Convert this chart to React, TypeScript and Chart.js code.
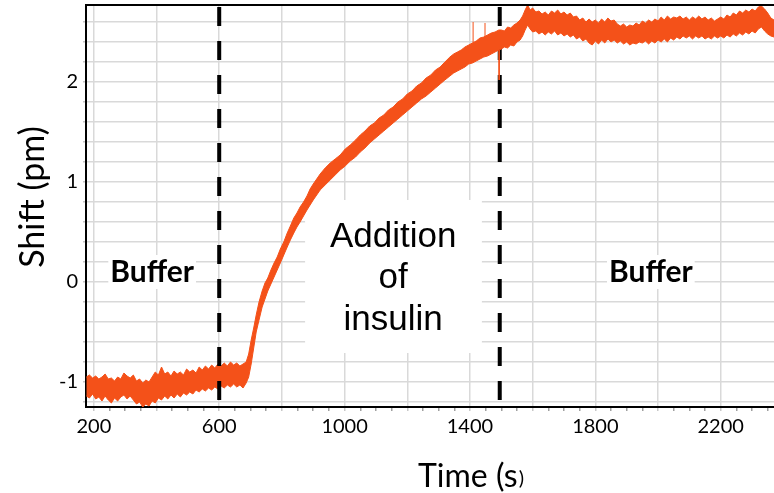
import { useEffect, useRef } from 'react';
import { Chart, registerables } from 'chart.js';

Chart.register(...registerables);

// ---- data (time in s, shift in pm): lower / upper edge of the noisy trace ----
const TIME = [
  176, 186, 196, 206, 216, 226, 236, 246, 256, 266, 276, 286, 296, 306, 316, 326, 336, 346, 356, 366,
  376, 386, 396, 406, 416, 426, 436, 446, 456, 466, 476, 486, 496, 506, 516, 526, 536, 546, 556, 566,
  576, 586, 596, 606, 616, 626, 636, 646, 656, 666, 676, 686,
  694, 702, 710, 718, 727, 737, 746, 755, 765, 775, 785, 795, 806, 817, 827, 838, 848, 858, 869, 880,
  890, 900, 911, 922, 938, 954, 970, 986, 1002, 1018, 1035, 1050, 1065, 1080, 1095, 1110, 1125, 1140,
  1155, 1170, 1185, 1200, 1215, 1230, 1245, 1260, 1275, 1290, 1305, 1320, 1336, 1348, 1360, 1372, 1384, 1396,
  1408, 1420, 1432, 1444, 1456, 1468, 1480, 1492,
  1500, 1510, 1520, 1530, 1540, 1550, 1560, 1568, 1576, 1584, 1592, 1600, 1610, 1620, 1630, 1640, 1650, 1660,
  1670, 1680, 1690, 1700, 1710, 1720, 1730, 1740, 1750, 1760, 1770, 1780, 1790, 1800, 1810, 1820, 1830, 1840,
  1850, 1860, 1870, 1880, 1890, 1900, 1910, 1920, 1930, 1940, 1950, 1960, 1970, 1980, 1990, 2000, 2010, 2020,
  2030, 2040, 2050, 2060, 2070, 2080, 2090, 2100, 2110, 2120, 2130, 2140, 2150, 2160, 2170, 2180, 2190, 2200,
  2210, 2220, 2230, 2240, 2250, 2260, 2270, 2280, 2290, 2300, 2310, 2320, 2330, 2340, 2350, 2360, 2370,
];
const LOWER = [
  -1.14, -1.16, -1.12, -1.17, -1.15, -1.19, -1.14, -1.18, -1.21, -1.16, -1.19, -1.15, -1.13, -1.17, -1.14, -1.18, -1.22, -1.2, -1.25, -1.22,
  -1.24, -1.19, -1.21, -1.16, -1.18, -1.14, -1.17, -1.13, -1.16, -1.12, -1.15, -1.11, -1.13, -1.1, -1.12, -1.08, -1.1, -1.07, -1.09, -1.06,
  -1.08, -1.05, -1.07, -1.04, -1.06, -1.03, -1.05, -1.02, -1.05, -1.03, -1.06, -1.01,
  -0.95, -0.82, -0.66, -0.5, -0.38, -0.25, -0.17, -0.09, -0.02, 0.05, 0.12, 0.19, 0.27, 0.35, 0.42, 0.49, 0.55, 0.6, 0.66, 0.72,
  0.77, 0.82, 0.87, 0.92, 0.97, 1.02, 1.07, 1.12, 1.16, 1.21, 1.25, 1.3, 1.34, 1.39, 1.43, 1.47, 1.51, 1.55,
  1.59, 1.63, 1.67, 1.71, 1.75, 1.79, 1.83, 1.86, 1.9, 1.94, 1.98, 2.02, 2.06, 2.09, 2.11, 2.13, 2.15, 2.18,
  2.19, 2.21, 2.23, 2.25, 2.26, 2.28, 2.3, 2.32,
  2.33, 2.35, 2.34, 2.37, 2.36, 2.4, 2.42, 2.46, 2.52, 2.57, 2.53, 2.5, 2.51, 2.48, 2.5, 2.47, 2.5, 2.48,
  2.51, 2.47, 2.49, 2.46, 2.48, 2.45, 2.47, 2.43, 2.45, 2.41, 2.43, 2.39, 2.37, 2.41, 2.38, 2.42, 2.39, 2.43,
  2.4, 2.42, 2.39, 2.41, 2.38, 2.4, 2.37, 2.39, 2.38, 2.4, 2.39, 2.41, 2.38, 2.41, 2.39, 2.42, 2.4, 2.43,
  2.4, 2.44, 2.42, 2.45, 2.43, 2.46, 2.44, 2.46, 2.43, 2.46, 2.44, 2.46, 2.43, 2.45, 2.43, 2.46, 2.44, 2.46,
  2.44, 2.47, 2.45, 2.48, 2.46, 2.49, 2.47, 2.5, 2.48, 2.51, 2.49, 2.53, 2.55, 2.51, 2.48, 2.46, 2.45,
];
const UPPER = [
  -0.95, -0.93, -0.96, -0.94, -0.97, -0.95, -0.92, -0.97, -0.96, -0.99, -0.95, -0.97, -0.91, -0.94, -0.96, -0.93, -0.99, -0.97, -1.01, -0.98,
  -1.0, -0.95, -0.9, -0.93, -0.85, -0.92, -0.9, -0.94, -0.89, -0.92, -0.9, -0.93, -0.87, -0.9, -0.88, -0.91, -0.85, -0.88, -0.84, -0.87,
  -0.83, -0.86, -0.82, -0.84, -0.81, -0.84, -0.8, -0.83, -0.81, -0.84, -0.82, -0.8,
  -0.72, -0.58, -0.46, -0.33, -0.2, -0.09, -0.01, 0.04, 0.12, 0.19, 0.25, 0.33, 0.4, 0.49, 0.56, 0.64, 0.69, 0.75, 0.8, 0.86,
  0.93, 0.98, 1.03, 1.08, 1.14, 1.19, 1.23, 1.27, 1.33, 1.37, 1.42, 1.47, 1.51, 1.56, 1.59, 1.64, 1.67, 1.72,
  1.75, 1.8, 1.83, 1.88, 1.91, 1.96, 1.99, 2.04, 2.07, 2.12, 2.15, 2.2, 2.25, 2.28, 2.3, 2.32, 2.35, 2.37,
  2.39, 2.41, 2.44, 2.45, 2.47, 2.49, 2.5, 2.52,
  2.52, 2.51, 2.55, 2.54, 2.57, 2.59, 2.62, 2.66, 2.72, 2.77, 2.72, 2.74, 2.7, 2.71, 2.68, 2.7, 2.67, 2.71,
  2.69, 2.72, 2.68, 2.7, 2.67, 2.69, 2.65, 2.66, 2.62, 2.64, 2.6, 2.63, 2.6, 2.62, 2.59, 2.63, 2.6, 2.64,
  2.61, 2.62, 2.58, 2.56, 2.58, 2.55, 2.57, 2.56, 2.59, 2.57, 2.61, 2.59, 2.62, 2.6, 2.63, 2.61, 2.65, 2.62,
  2.66, 2.63, 2.65, 2.64, 2.66, 2.63, 2.65, 2.62, 2.65, 2.63, 2.66, 2.63, 2.65, 2.62, 2.64, 2.61, 2.63, 2.65,
  2.63, 2.67, 2.65, 2.69, 2.67, 2.71, 2.69, 2.72, 2.7, 2.73, 2.71, 2.75, 2.76, 2.73, 2.69, 2.64, 2.62,
];
// thin spikes on the trace: [time, from, to]
const SPIKE_TIME = [1410, 1448, 1493];
const SPIKE_FROM = [2.38, 2.42, 2.32];
const SPIKE_TO = [2.6, 2.59, 2.02];

// phase boundaries (s) and labels
const PHASE_LINES = [600, 1495];
const PHASE_LABELS = ['Buffer', 'Addition of insulin', 'Buffer'];

// axes
const X_MIN = 175;
const X_MAX = 2370;
const X_LABELS = [200, 600, 1000, 1400, 1800, 2200];
const Y_MIN = -1.25;
const Y_MAX = 2.77;
const Y_GRID = [-1.2, -1.0, -0.8, -0.6, -0.4, -0.2, 0, 0.2, 0.4, 0.6, 0.8, 1.0, 1.2, 1.4, 1.6, 1.8, 2.0, 2.2, 2.4, 2.6];
const Y_LABELS = [-1, 0, 1, 2];

const ORANGE = '#F45119';
const GRID = '#d9d9d9';

const dashed = (chart: any, value: number) => {
  const { ctx, chartArea, scales } = chart;
  ctx.save();
  ctx.strokeStyle = '#000';
  ctx.lineWidth = 4;
  ctx.setLineDash([19, 15]);
  const px = scales.x.getPixelForValue(value);
  ctx.beginPath();
  ctx.moveTo(px, chartArea.top + 2);
  ctx.lineTo(px, chartArea.bottom);
  ctx.stroke();
  ctx.restore();
};

const overlay = {
  id: 'overlay',
  beforeDatasetsDraw(chart: any) {
    const { ctx, scales } = chart;
    const x = scales.x;
    const y = scales.y;
    ctx.save();
    ctx.fillStyle = '#ffffff';
    ctx.font = 'bold 30px Lato';
    const lbx = x.getPixelForValue(386);
    const rbx = x.getPixelForValue(1977);
    const by = y.getPixelForValue(0.1);
    const bw = ctx.measureText(PHASE_LABELS[0]).width;
    ctx.fillRect(lbx - bw / 2 - 2, by - 17, bw + 4, 34);
    ctx.fillRect(rbx - bw / 2 - 2, by - 17, bw + 4, 34);
    const ax0 = x.getPixelForValue(874);
    const ax1 = x.getPixelForValue(1438);
    const ay0 = y.getPixelForValue(0.82);
    const ay1 = y.getPixelForValue(-0.71);
    ctx.fillRect(ax0, ay0, ax1 - ax0, ay1 - ay0);

    ctx.fillStyle = '#000';
    ctx.textAlign = 'center';
    ctx.textBaseline = 'middle';
    ctx.fillText(PHASE_LABELS[0], lbx, by);
    ctx.fillText(PHASE_LABELS[2], rbx, by);
    ctx.font = '35px "Liberation Sans"';
    const words = ['Addition', 'of', 'insulin'];
    const ys = [0.45, 0.04, -0.38];
    const acx = x.getPixelForValue(1155);
    words.forEach((w, i) => ctx.fillText(w, acx, y.getPixelForValue(ys[i])));
    ctx.restore();
    dashed(chart, PHASE_LINES[1]);
  },
  afterDatasetsDraw(chart: any) {
    dashed(chart, PHASE_LINES[0]);
    const { ctx, chartArea } = chart;
    ctx.save();
    ctx.strokeStyle = '#000';
    ctx.lineWidth = 2;
    ctx.beginPath();
    ctx.moveTo(chartArea.left, chartArea.top);
    ctx.lineTo(chartArea.right, chartArea.top);
    ctx.stroke();
    ctx.restore();
  },
  afterDraw(chart: any) {
    const { ctx } = chart;
    ctx.save();
    ctx.fillStyle = '#000';
    ctx.translate(33, 197);
    ctx.rotate(-Math.PI / 2);
    ctx.font = '34px Lato';
    ctx.textAlign = 'center';
    ctx.textBaseline = 'middle';
    ctx.fillText('Shift (pm)', 0, 0);
    ctx.restore();
    ctx.save();
    ctx.fillStyle = '#000';
    ctx.font = '32px Lato';
    ctx.textAlign = 'left';
    ctx.textBaseline = 'alphabetic';
    const main = 'Time (s';
    ctx.fillText(main, 418, 487);
    const w = ctx.measureText(main).width;
    ctx.font = '20px Lato';
    ctx.fillText(')', 418 + w + 1, 485);
    ctx.restore();
  },
};

export default function App() {
  const ref = useRef<HTMLCanvasElement | null>(null);
  useEffect(() => {
    document.body.style.margin = '0';
    const canvas = ref.current;
    if (!canvas) return;
    const upper = TIME.map((t, i) => ({ x: t, y: UPPER[i] }));
    const lower = TIME.map((t, i) => ({ x: t, y: LOWER[i] }));
    const spikes: any[] = [];
    SPIKE_TIME.forEach((t, i) => {
      spikes.push({ x: t, y: SPIKE_FROM[i] }, { x: t, y: SPIKE_TO[i] }, { x: t, y: null });
    });
    const xGrid: number[] = [];
    for (let v = 200; v <= 2350; v += 50) xGrid.push(v);
    const noPad = (s: any) => {
      s.paddingTop = 0;
      s.paddingBottom = 0;
      s.paddingLeft = 0;
      s.paddingRight = 0;
    };
    const chart = new Chart(canvas, {
      type: 'line',
      data: {
        datasets: [
          { data: upper, borderColor: ORANGE, borderWidth: 1, pointRadius: 0, fill: false, tension: 0 },
          { data: lower, borderColor: ORANGE, borderWidth: 1, pointRadius: 0, fill: '-1', backgroundColor: ORANGE, tension: 0 },
          { data: spikes, borderColor: ORANGE, borderWidth: 1, pointRadius: 0, fill: false, spanGaps: false },
        ],
      },
      options: {
        animation: false,
        responsive: false,
        events: [],
        layout: { padding: { top: 5, right: 0, left: 0, bottom: 0 } },
        plugins: { legend: { display: false }, tooltip: { enabled: false } },
        scales: {
          x: {
            type: 'linear',
            min: X_MIN,
            max: X_MAX,
            afterFit: (s: any) => { s.height = 86; noPad(s); },
            afterBuildTicks: (s: any) => { s.ticks = xGrid.map((v) => ({ value: v })); },
            border: { color: '#000', width: 2 },
            grid: {
              color: (c: any) => (c.tick && c.tick.value % 200 === 0 ? GRID : 'rgba(0,0,0,0)'),
              lineWidth: 1.5,
              tickColor: (c: any) => (c.tick && c.tick.value % 200 === 0 ? '#c8c8c8' : '#a0a0a0'),
              tickLength: 4,
            },
            ticks: {
              autoSkip: false,
              maxRotation: 0,
              color: '#000',
              padding: 4,
              font: { family: 'Lato', size: 20 },
              callback: (v: any) => (X_LABELS.includes(v) ? String(v) : ''),
            },
          },
          y: {
            type: 'linear',
            min: Y_MIN,
            max: Y_MAX,
            afterFit: (s: any) => { s.width = 86; noPad(s); },
            afterBuildTicks: (s: any) => { s.ticks = Y_GRID.map((v) => ({ value: v })); },
            border: { color: '#000', width: 2 },
            grid: { color: GRID, lineWidth: 1.5, tickLength: 3, tickColor: '#c8c8c8' },
            ticks: {
              autoSkip: false,
              color: '#000',
              padding: 5,
              font: { family: 'Lato', size: 20 },
              callback: (v: any) => (Y_LABELS.includes(v) ? String(v) : ''),
            },
          },
        },
      },
      plugins: [overlay],
    });
    return () => chart.destroy();
  }, []);
  return <canvas ref={ref} width={774} height={493} style={{ display: 'block' }} />;
}
